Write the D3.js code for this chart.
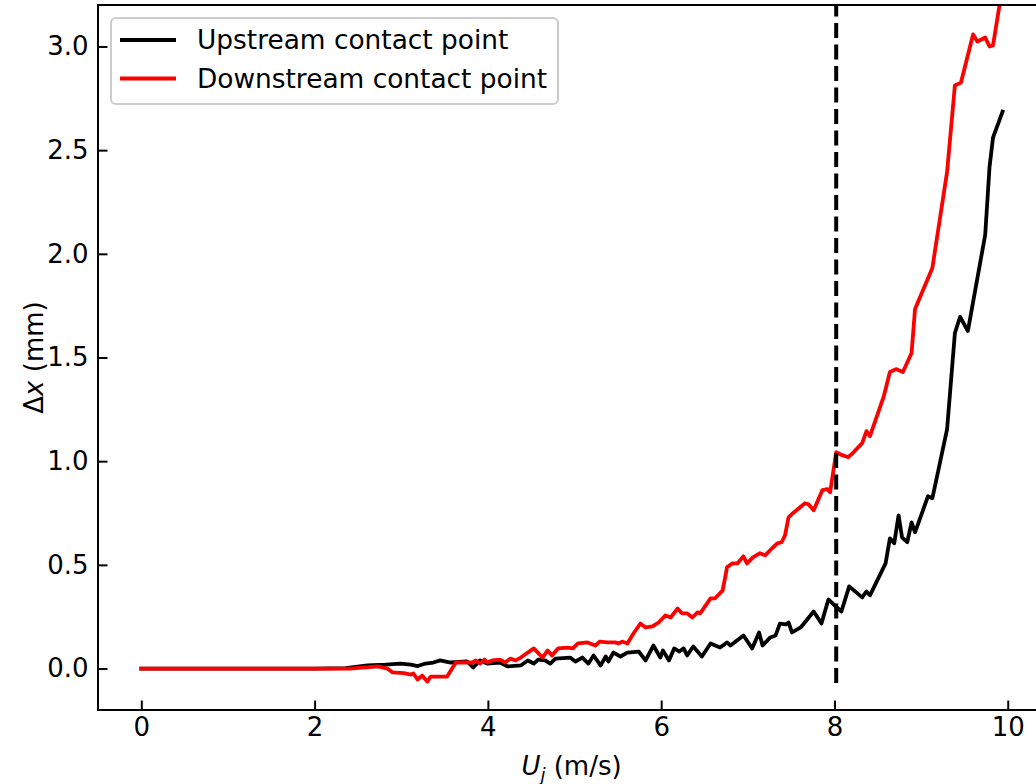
<!DOCTYPE html>
<html>
<head>
<meta charset="utf-8">
<script src="https://cdn.jsdelivr.net/npm/d3@7"></script>
<style>
  html, body { margin: 0; padding: 0; background: #fff; }
  svg { display: block; font-family: "DejaVu Sans", sans-serif; }
</style>
</head>
<body>
<svg id="chart" width="1036" height="784"></svg>
<script>
// Jet velocity U_j (m/s) and contact-point displacement Δx (mm)
const upstreamU = [0.00, 0.68, 1.38, 2.01, 2.36, 2.61, 2.82, 2.99, 3.11, 3.19, 3.28, 3.37, 3.45, 3.57, 3.76, 3.83, 3.91, 3.99,
  4.14, 4.23, 4.38, 4.46, 4.53, 4.58, 4.66, 4.72, 4.78, 4.95, 5.01, 5.09, 5.16, 5.22, 5.30, 5.36, 5.39, 5.45, 5.53, 5.61,
  5.74, 5.82, 5.91, 5.99, 6.02, 6.09, 6.15, 6.21, 6.26, 6.30, 6.37, 6.47, 6.57, 6.68, 6.76, 6.80, 6.95, 7.05, 7.13, 7.17,
  7.26, 7.32, 7.37, 7.44, 7.47, 7.51, 7.61, 7.76, 7.85, 7.93, 7.99, 8.08, 8.17, 8.32, 8.37, 8.41, 8.59, 8.64, 8.69, 8.74,
  8.78, 8.84, 8.89, 8.93, 9.08, 9.13, 9.30, 9.39, 9.45, 9.54, 9.74, 9.79, 9.83, 9.94];
const upstreamDx = [0, 0, 0, 0, 0.002, 0.015, 0.019, 0.024, 0.019, 0.012, 0.024, 0.029, 0.039, 0.029, 0.034, 0.005, 0.039, 0.024,
  0.029, 0.010, 0.015, 0.039, 0.024, 0.043, 0.039, 0.024, 0.048, 0.053, 0.034, 0.053, 0.024, 0.063, 0.015, 0.058, 0.034, 0.077, 0.058, 0.077,
  0.082, 0.039, 0.111, 0.053, 0.087, 0.039, 0.097, 0.082, 0.097, 0.063, 0.106, 0.058, 0.121, 0.101, 0.126, 0.111, 0.159, 0.097, 0.174, 0.111,
  0.150, 0.159, 0.217, 0.213, 0.222, 0.174, 0.198, 0.275, 0.217, 0.333, 0.309, 0.275, 0.396, 0.343, 0.372, 0.353, 0.507, 0.628, 0.604, 0.739,
  0.633, 0.609, 0.705, 0.657, 0.831, 0.821, 1.155, 1.618, 1.696, 1.628, 2.092, 2.420, 2.560, 2.686];

const downstreamU = [0.00, 0.68, 1.38, 2.01, 2.41, 2.73, 2.84, 2.90, 3.03, 3.11, 3.14, 3.19, 3.24, 3.30, 3.34, 3.53, 3.63, 3.82,
  3.86, 3.91, 3.96, 3.99, 4.05, 4.14, 4.20, 4.26, 4.32, 4.38, 4.46, 4.53, 4.63, 4.69, 4.74, 4.81, 4.92, 4.98, 5.04, 5.15,
  5.24, 5.29, 5.38, 5.47, 5.51, 5.55, 5.61, 5.68, 5.76, 5.82, 5.90, 5.97, 6.05, 6.11, 6.19, 6.24, 6.30, 6.36, 6.42, 6.45,
  6.57, 6.62, 6.71, 6.76, 6.82, 6.88, 6.95, 6.99, 7.06, 7.14, 7.20, 7.28, 7.34, 7.39, 7.43, 7.47, 7.52, 7.66, 7.70, 7.76,
  7.86, 7.92, 7.95, 8.02, 8.09, 8.16, 8.22, 8.32, 8.37, 8.41, 8.57, 8.64, 8.71, 8.79, 8.89, 8.93, 9.13, 9.30, 9.39, 9.46,
  9.60, 9.65, 9.74, 9.79, 9.83, 9.94];
const downstreamDx = [0, 0, 0, 0, 0, 0.010, 0, -0.019, -0.022, -0.029, -0.024, -0.053, -0.034, -0.063, -0.039, -0.039, 0.029, 0.029,
  0.039, 0.024, 0.043, 0.029, 0.039, 0.043, 0.029, 0.048, 0.039, 0.053, 0.077, 0.097, 0.053, 0.087, 0.063, 0.097, 0.101, 0.097, 0.121, 0.126,
  0.111, 0.130, 0.126, 0.126, 0.121, 0.130, 0.121, 0.169, 0.217, 0.198, 0.203, 0.222, 0.256, 0.246, 0.290, 0.266, 0.266, 0.246, 0.271, 0.266,
  0.338, 0.338, 0.377, 0.488, 0.507, 0.507, 0.541, 0.507, 0.536, 0.556, 0.546, 0.580, 0.604, 0.609, 0.643, 0.729, 0.749, 0.797, 0.792, 0.763,
  0.860, 0.865, 0.850, 1.043, 1.029, 1.019, 1.043, 1.087, 1.145, 1.121, 1.314, 1.430, 1.444, 1.430, 1.522, 1.734, 1.932, 2.396, 2.812, 2.826,
  3.058, 3.024, 3.043, 3.000, 3.005, 3.290];

const seriesNames = ["Upstream contact point", "Downstream contact point"];
const seriesColors = ["#000000", "#ff0000"];

const criticalU = 8.02;          // vertical dashed marker
const criticalSpan = [-0.07, 3.4];

const xTicks = [0, 2, 4, 6, 8, 10];
const yTicks = [0.0, 0.5, 1.0, 1.5, 2.0, 2.5, 3.0];
const xDomain = [-0.5, 10.43];
const yDomain = [-0.2, 3.2];

// ---- layout ----
const plot = { left: 98, right: 1045, top: 5, bottom: 710 };
const fontSize = 26;
const legendFontSize = 26.4;
const tickLen = 9.5;
const lineWidth = 3.8;

const svg = d3.select("#chart");
const x = d3.scaleLinear().domain(xDomain).range([plot.left, plot.right]);
const y = d3.scaleLinear().domain(yDomain).range([plot.bottom, plot.top]);

svg.append("defs").append("clipPath").attr("id", "plotClip")
  .append("rect")
  .attr("x", plot.left).attr("y", plot.top)
  .attr("width", plot.right - plot.left).attr("height", plot.bottom - plot.top);

const series = [
  { name: seriesNames[0], color: seriesColors[0], u: upstreamU, dx: upstreamDx },
  { name: seriesNames[1], color: seriesColors[1], u: downstreamU, dx: downstreamDx }
];

const line = d3.line().x(d => x(d[0])).y(d => y(d[1]));
const lines = svg.append("g").attr("clip-path", "url(#plotClip)");

series.forEach(s => {
  const pts = s.u.map((u, i) => [u, s.dx[i]]);
  lines.append("path")
    .datum(pts)
    .attr("d", line)
    .attr("fill", "none")
    .attr("stroke", s.color)
    .attr("stroke-width", lineWidth)
    .attr("stroke-linejoin", "round")
    .attr("stroke-linecap", "square");
});

lines.append("line")
  .attr("x1", x(criticalU)).attr("x2", x(criticalU))
  .attr("y1", y(criticalSpan[0])).attr("y2", y(criticalSpan[1]))
  .attr("stroke", "#000")
  .attr("stroke-width", 4)
  .attr("stroke-dasharray", "15,6.5");

// ---- axes ----
const xAxis = d3.axisBottom(x)
  .tickValues(xTicks)
  .tickFormat(d3.format("d"))
  .tickSizeInner(-tickLen)
  .tickSizeOuter(0)
  .tickPadding(8);

const yAxis = d3.axisLeft(y)
  .tickValues(yTicks)
  .tickFormat(d3.format(".1f"))
  .tickSizeInner(-tickLen)
  .tickSizeOuter(0)
  .tickPadding(9.5);

const gx = svg.append("g").attr("transform", `translate(0,${plot.bottom})`).call(xAxis);
const gy = svg.append("g").attr("transform", `translate(${plot.left},0)`).call(yAxis);

[gx, gy].forEach(g => {
  g.select(".domain").remove();
  g.selectAll(".tick line").attr("stroke", "#000").attr("stroke-width", 2);
  g.selectAll(".tick text")
    .attr("fill", "#000")
    .style("font-family", "'DejaVu Sans', sans-serif")
    .style("font-size", fontSize + "px");
});

// spines
const spines = svg.append("g").attr("stroke", "#000").attr("stroke-width", 2).attr("fill", "none");
spines.append("rect")
  .attr("x", plot.left).attr("y", plot.top)
  .attr("width", plot.right - plot.left).attr("height", plot.bottom - plot.top);

// axis labels
const xLabel = svg.append("text")
  .attr("x", (plot.left + plot.right) / 2)
  .attr("y", 775)
  .attr("text-anchor", "middle")
  .style("font-size", fontSize + "px");
xLabel.append("tspan").style("font-style", "italic").text("U");
xLabel.append("tspan").style("font-style", "italic").style("font-size", "18px").attr("dy", 6).text("j");
xLabel.append("tspan").attr("dy", -6).text(" (m/s)");

const yLabel = svg.append("text")
  .attr("transform", `translate(43,${(plot.top + plot.bottom) / 2}) rotate(-90)`)
  .attr("text-anchor", "middle")
  .style("font-size", fontSize + "px");
yLabel.append("tspan").text("Δ");
yLabel.append("tspan").style("font-style", "italic").text("x");
yLabel.append("tspan").text(" (mm)");

// legend
const legend = svg.append("g");
legend.append("rect")
  .attr("x", 111).attr("y", 18)
  .attr("width", 447).attr("height", 86)
  .attr("rx", 5).attr("ry", 5)
  .attr("fill", "#fff").attr("fill-opacity", 0.8)
  .attr("stroke", "#cccccc").attr("stroke-width", 2);

series.forEach((s, i) => {
  const cy = 40 + i * 38.5;
  legend.append("line")
    .attr("x1", 120).attr("x2", 176)
    .attr("y1", cy).attr("y2", cy)
    .attr("stroke", s.color).attr("stroke-width", lineWidth);
  legend.append("text")
    .attr("x", 197).attr("y", cy)
    .attr("dy", "0.35em")
    .style("font-size", legendFontSize + "px")
    .text(s.name);
});
</script>
</body>
</html>
